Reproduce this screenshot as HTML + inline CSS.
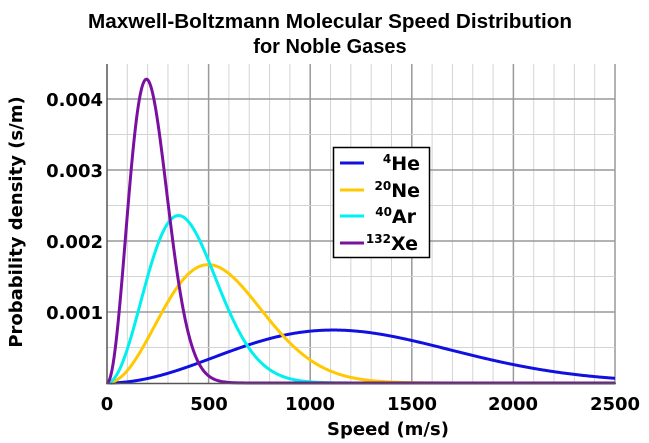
<!DOCTYPE html>
<html><head><meta charset="utf-8"><style>
html,body{margin:0;padding:0;background:#fff;}
svg{display:block;font-family:"DejaVu Sans","Liberation Sans",sans-serif;font-weight:bold;}
</style></head><body>
<svg id="s" width="649" height="443" viewBox="0 0 649 443" xmlns="http://www.w3.org/2000/svg">
<rect width="649" height="443" fill="#fff"/>
<g font-family="Liberation Sans, sans-serif" font-size="20" text-anchor="middle">
<text x="330" y="28" textLength="484" lengthAdjust="spacingAndGlyphs">Maxwell-Boltzmann Molecular Speed Distribution</text>
<text x="330" y="53">for Noble Gases</text>
</g>
<g id="grid"></g>
<g id="curves" fill="none" stroke-width="3" stroke-linejoin="round"></g>
<line x1="107" y1="64" x2="107" y2="384" stroke="#555" stroke-width="1.5"/>
<line x1="106" y1="383.5" x2="616" y2="383.5" stroke="#555" stroke-width="1.5"/>
<g font-size="18" text-anchor="end">
<text x="103" y="319">0.001</text>
<text x="103" y="248">0.002</text>
<text x="103" y="177">0.003</text>
<text x="103" y="106">0.004</text>
</g>
<g font-size="18" text-anchor="middle">
<text x="107" y="410">0</text>
<text x="209" y="410">500</text>
<text x="310" y="410">1000</text>
<text x="412" y="410">1500</text>
<text x="513" y="410">2000</text>
<text x="615" y="410">2500</text>
</g>
<text x="388" y="435" font-size="18" text-anchor="middle">Speed (m/s)</text>
<text transform="translate(22,222) rotate(-90)" font-size="18" text-anchor="middle">Probability density (s/m)</text>
<rect x="333.5" y="147.5" width="96" height="110" fill="#fff" stroke="#000" stroke-width="1.5"/>
<g stroke-width="3">
<line x1="340" y1="163" x2="364" y2="163" stroke="#1010e0"/>
<line x1="340" y1="190" x2="364" y2="190" stroke="#ffc800"/>
<line x1="340" y1="216" x2="364" y2="216" stroke="#00f0f0"/>
<line x1="340" y1="243" x2="364" y2="243" stroke="#7a10a0"/>
</g>
<g font-size="19" text-anchor="end">
<text x="420" y="170"><tspan font-size="12" dy="-7">4</tspan><tspan dy="7">He</tspan></text>
<text x="420" y="197"><tspan font-size="12" dy="-7">20</tspan><tspan dy="7">Ne</tspan></text>
<text x="416" y="223"><tspan font-size="12" dy="-7">40</tspan><tspan dy="7">Ar</tspan></text>
<text x="418" y="250"><tspan font-size="12" dy="-7">132</tspan><tspan dy="7">Xe</tspan></text>
</g>
</svg>
<script>
(function(){
var NS="http://www.w3.org/2000/svg";
var x0=107,xs=(615-107)/2500,y0=383,ys=71/0.001;
var g=document.getElementById("grid");
function L(x1,y1,x2,y2,c,w){var l=document.createElementNS(NS,"line");l.setAttribute("x1",x1);l.setAttribute("y1",y1);l.setAttribute("x2",x2);l.setAttribute("y2",y2);l.setAttribute("stroke",c);l.setAttribute("stroke-width",w);g.appendChild(l);}
for(var v=100;v<=2500;v+=100){var x=x0+v*xs;var maj=v%500==0;L(x,64,x,383,maj?"#999":"#d4d4d4",maj?1.5:1);}
for(var p=0.0005;p<=0.0045;p+=0.0005){var y=y0-p*ys;var maj=Math.abs(p*1000-Math.round(p*1000))<1e-6;L(107,y,615,y,maj?"#999":"#d4d4d4",maj?1.5:1);}
var c=document.getElementById("curves");
var sp=[[1113,"#1010e0"],[498,"#ffc800"],[352,"#00f0f0"],[194,"#7a10a0"]];
sp.forEach(function(s){var a=s[0],d="";for(var v=0;v<=2500;v+=5){var f=4/Math.sqrt(Math.PI)*v*v/(a*a*a)*Math.exp(-v*v/(a*a));d+=(v?"L":"M")+(x0+v*xs).toFixed(2)+","+(y0-f*ys).toFixed(2);}
var p=document.createElementNS(NS,"path");p.setAttribute("d",d);p.setAttribute("stroke",s[1]);c.appendChild(p);});
})();
</script>
</body></html>
